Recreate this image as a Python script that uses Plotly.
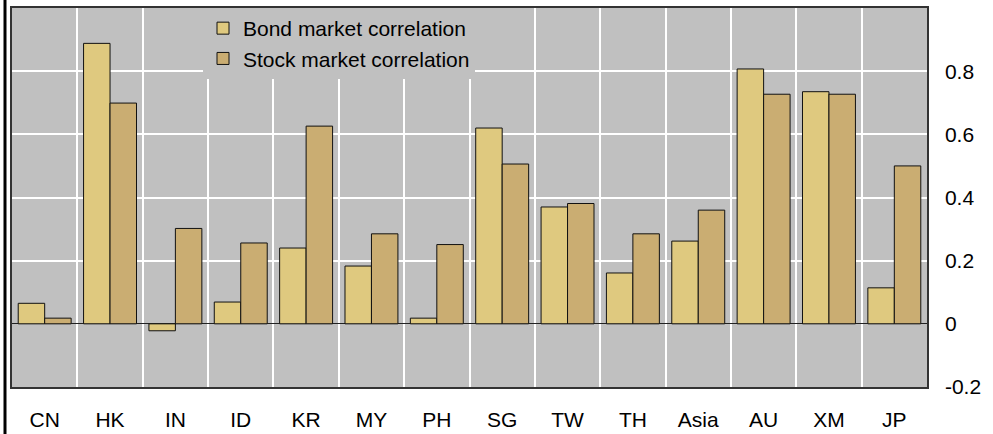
import plotly.graph_objects as go

categories = ["CN", "HK", "IN", "ID", "KR", "MY", "PH", "SG", "TW", "TH", "Asia", "AU", "XM", "JP"]
bond_corr = [0.065, 0.888, -0.022, 0.069, 0.240, 0.183, 0.018, 0.620, 0.370, 0.161, 0.262, 0.807, 0.735, 0.114]
stock_corr = [0.018, 0.699, 0.302, 0.256, 0.626, 0.285, 0.251, 0.506, 0.381, 0.285, 0.360, 0.727, 0.727, 0.500]
y_ticks = [-0.2, 0, 0.2, 0.4, 0.6, 0.8]
y_tick_text = ["-0.2", "0", "0.2", "0.4", "0.6", "0.8"]

FONT = "Liberation Sans, Arial, sans-serif"
FS = 21
W, H = 993, 434
ML, MR, MT, MB = 12, 66, 8, 47
PW = W - ML - MR
PH = H - MT - MB

fig = go.Figure()
fig.add_trace(go.Bar(x=categories, y=bond_corr, name="Bond market correlation",
                     marker=dict(color="#DFC97F", line=dict(color="#111111", width=1))))
fig.add_trace(go.Bar(x=categories, y=stock_corr, name="Stock market correlation",
                     marker=dict(color="#CAAD72", line=dict(color="#111111", width=1))))

fig.update_layout(
    width=W, height=H,
    margin=dict(l=ML, r=MR, t=MT, b=MB, autoexpand=False),
    paper_bgcolor="white",
    plot_bgcolor="#C0C0C0",
    barmode="group",
    bargap=0.19,
    bargroupgap=0,
    font=dict(family=FONT, size=FS, color="black"),
    legend=dict(
        x=(203 - ML) / PW, y=1, xanchor="left", yanchor="top",
        bgcolor="#C0C0C0", borderwidth=0,
        font=dict(family=FONT, size=FS, color="black"),
        tracegroupgap=0, itemwidth=30,
    ),
    xaxis=dict(
        type="category",
        tickson="boundaries",
        showgrid=True, gridcolor="white", gridwidth=1.5,
        ticks="", ticklen=0,
        showline=True, mirror=True, linecolor="#333333", linewidth=1.5,
        tickfont=dict(family=FONT, size=FS, color="black"),
        ticklabelstandoff=13,
        automargin=False,
        range=[-0.5, len(categories) - 0.5],
    ),
    yaxis=dict(
        side="right",
        range=[-0.2, 1.0],
        tickvals=y_ticks, ticktext=y_tick_text,
        showgrid=True, gridcolor="white", gridwidth=1.5,
        zeroline=True, zerolinecolor="#222222", zerolinewidth=1,
        ticks="", ticklen=0,
        showline=True, mirror=True, linecolor="#333333", linewidth=1.5,
        tickfont=dict(family=FONT, size=FS, color="black"),
        ticklabelstandoff=12,
        automargin=False,
    ),
    showlegend=True,
)

# outer frame edge on the left
fig.add_shape(type="line", xref="paper", yref="paper",
              x0=(5 - ML) / PW, x1=(5 - ML) / PW, y0=-MB / PH - 0.05, y1=1 + MT / PH + 0.05,
              line=dict(color="black", width=3))

fig.write_html("out.html",
               config={"displayModeBar": False},
               post_script="document.body.style.margin='0';document.body.style.overflow='hidden';")
